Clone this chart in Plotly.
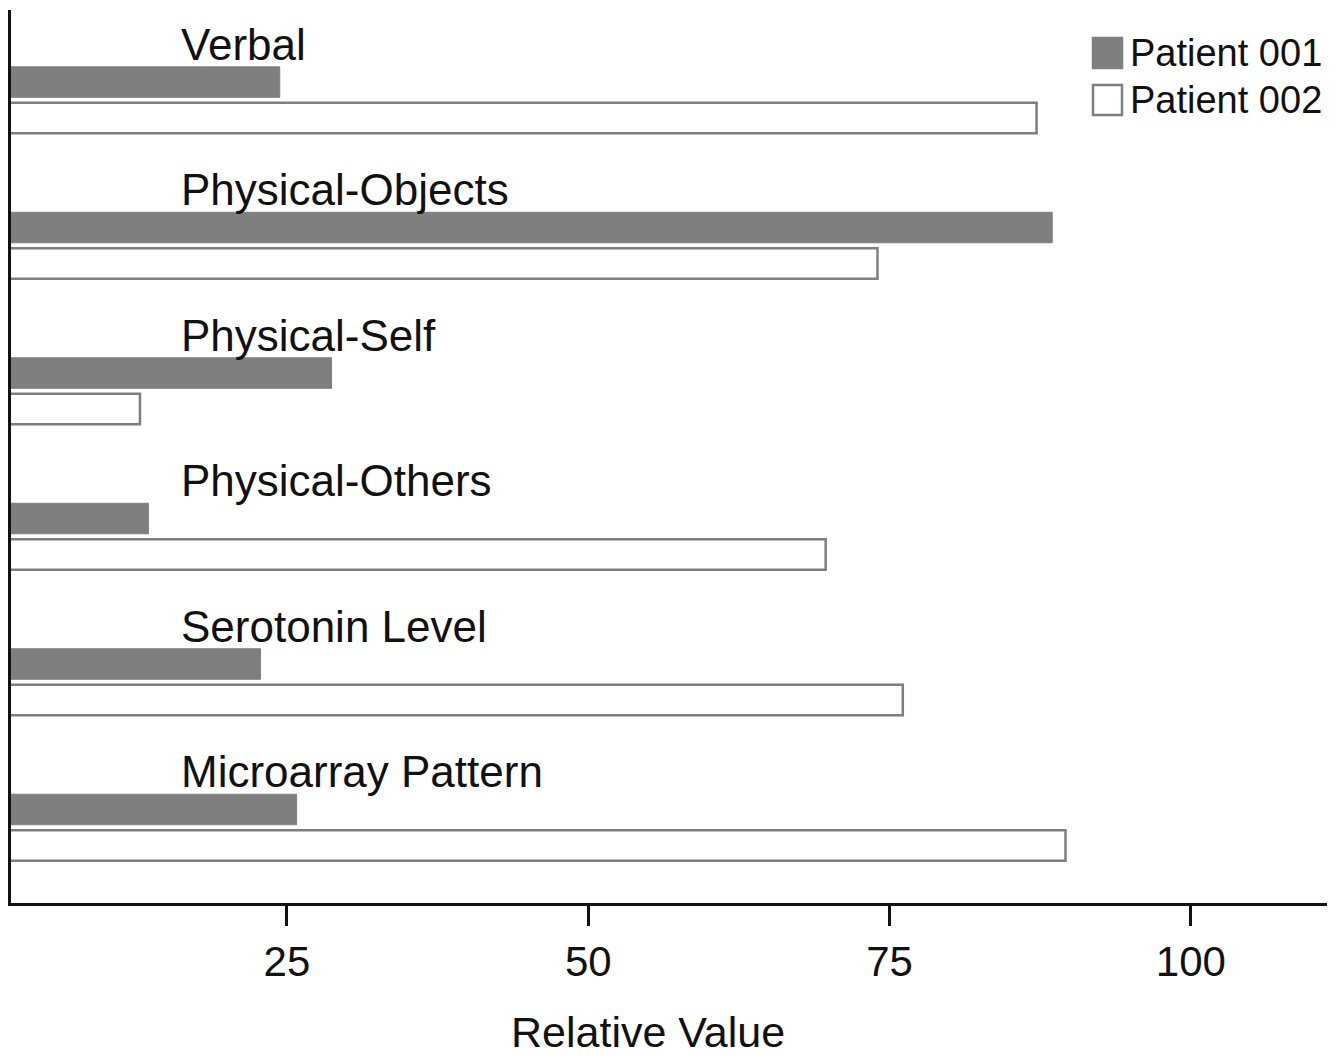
import plotly.graph_objects as go

categories = ["Verbal", "Physical-Objects", "Physical-Self", "Physical-Others",
              "Serotonin Level", "Microarray Pattern"]
patient_001 = [24.4, 88.5, 28.7, 13.5, 22.8, 25.8]
patient_002 = [87.2, 74.0, 12.8, 69.7, 76.1, 89.6]
series_names = ["Patient 001", "Patient 002"]
tick_values = [25, 50, 75, 100]
x_title = "Relative Value"

FONT = "Liberation Sans, Arial, Helvetica, sans-serif"
GRAY = "#7f7f7f"
OFF = 8  # page body margin
W, H = 1340 - OFF, 1059 - OFF
ML, MR, MT, MB = 11 - OFF, 13, 10 - OFF, 156

fig = go.Figure()
fig.add_trace(go.Bar(
    y=categories, x=patient_001, orientation="h", name=series_names[0],
    marker=dict(color=GRAY, line=dict(color=GRAY, width=1)), showlegend=False))
fig.add_trace(go.Bar(
    y=categories, x=patient_002, orientation="h", name=series_names[1],
    marker=dict(color="white", line=dict(color=GRAY, width=2.5)), showlegend=False))

# category labels above each bar pair
for c in categories:
    fig.add_annotation(x=16, y=c, xref="x", yref="y", text=c, showarrow=False,
                       xanchor="left", yanchor="middle", yshift=56,
                       font=dict(family=FONT, size=44, color="#111"))

# pixel (screen) -> paper coordinates
pw = W - ML - MR
ph = H - MT - MB
def px2x(px):
    return (px - OFF - ML) / pw
def py2y(py):
    return (H - MB - (py - OFF)) / ph

legend_items = [(series_names[0], GRAY, 38, 68), (series_names[1], "white", 85, 115)]
for name, fill, y0, y1 in legend_items:
    fig.add_shape(type="rect", xref="paper", yref="paper",
                  x0=px2x(1093), x1=px2x(1122), y0=py2y(y1), y1=py2y(y0),
                  fillcolor=fill, line=dict(color=GRAY, width=2.5))
    fig.add_annotation(xref="paper", yref="paper", x=px2x(1128), y=py2y((y0 + y1) / 2),
                       text=name, showarrow=False, xanchor="left", yanchor="middle",
                       font=dict(family=FONT, size=38, color="#111"))

# x-axis title
fig.add_annotation(xref="paper", yref="paper", x=px2x(648), y=py2y(1032),
                   text=x_title, showarrow=False, xanchor="center", yanchor="middle",
                   font=dict(family=FONT, size=43, color="#111"))

fig.update_layout(
    width=W, height=H,
    margin=dict(l=ML, r=MR, t=MT, b=MB),
    plot_bgcolor="white", paper_bgcolor="white",
    barmode="group", bargap=0.505, bargroupgap=0.153,
    showlegend=False,
    font=dict(family=FONT, color="#111"),
)
fig.update_xaxes(
    range=[2.1, 111.3], tickvals=tick_values, ticks="outside", ticklen=20,
    tickwidth=3, tickcolor="#111", showline=True, linecolor="#111", linewidth=3,
    showgrid=False, zeroline=False, tickfont=dict(family=FONT, size=42, color="#111"),
)
fig.update_yaxes(
    type="category", categoryorder="array", categoryarray=categories,
    range=[5.519, -0.619], showticklabels=False, ticks="", showline=True,
    linecolor="#111", linewidth=3, showgrid=False, zeroline=False,
)

fig.write_html("out.html")
